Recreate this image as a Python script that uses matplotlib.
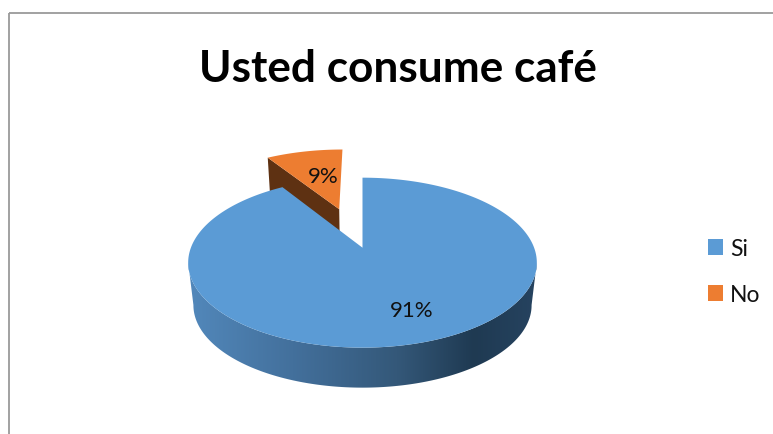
import numpy as np
import matplotlib
matplotlib.use("Agg")
import matplotlib.pyplot as plt
from matplotlib.colors import LinearSegmentedColormap
from matplotlib.patches import Patch, PathPatch, Polygon, Rectangle
from matplotlib.path import Path

title = "Usted consume café"
categories = ["Si", "No"]
values = [91, 9]
explode = [0.0, 0.53]

top_colors = ["#5B9BD5", "#ED7D31"]
cut_color = "#5E3112"
wall_stops = [(0.0, "#5288BB"), (0.3, "#43709C"), (0.6, "#345879"),
              (0.82, "#1F3A52"), (1.0, "#264360")]

# Perspective pie: plane coordinates (u, v) on a unit disc, v pointing away from the viewer.
CX, CY = 362.5, 248.7
A, B, K = 171.6, 82.35, 0.176
DEPTH, SHRINK = 43.0, 0.97

plt.rcParams["font.family"] = ["Lato", "DejaVu Sans"]


def project(u, v, lower=False):
    w = 1 + K * v
    dx, dy = A * u / w, -B * v / w
    if lower:
        dx, dy = dx * SHRINK, dy * SHRINK + DEPTH
    return np.column_stack([CX + dx, CY + dy])


def rim(theta, offset=(0.0, 0.0), lower=False):
    """Points on the rim for clockwise angles measured from twelve o'clock."""
    rad = np.radians(theta)
    return project(offset[0] + np.sin(rad), offset[1] + np.cos(rad), lower)


def apex(offset=(0.0, 0.0), lower=False):
    return project(np.array([offset[0]]), np.array([offset[1]]), lower)


fig = plt.figure(figsize=(7.73, 4.35), dpi=100)
ax = fig.add_axes([0, 0, 1, 1])
ax.set_xlim(0, 773)
ax.set_ylim(435, 0)
ax.axis("off")

# Chart frame, open towards the right and bottom edges
ax.add_patch(Rectangle((8.5, 13.5), 800, 460, fill=False, edgecolor="#9A9A9A", linewidth=1.3))

# Slice angles, clockwise from twelve o'clock
sweeps = np.array(values) / sum(values) * 360.0
si_start, si_end = 0.0, sweeps[0]
no_start, no_end = sweeps[0], sweeps[0] + sweeps[1]
no_mid = np.radians((no_start + no_end) / 2)
no_offset = (explode[1] * np.sin(no_mid), explode[1] * np.cos(no_mid))

# Pulled-out slice: its visible cut face, then its top
no_edge = rim(np.array([no_start]), no_offset)
no_edge_low = rim(np.array([no_start]), no_offset, lower=True)
ax.add_patch(Polygon(np.vstack([apex(no_offset), no_edge, no_edge_low, apex(no_offset, True)]),
                     closed=True, facecolor=cut_color, edgecolor="none"))
no_arc = rim(np.linspace(no_start, no_end, 40), no_offset)
ax.add_patch(Polygon(np.vstack([apex(no_offset), no_arc]), closed=True,
                     facecolor=top_colors[1], edgecolor="none"))

# Outer wall of the large slice, shaded left to right
front = np.linspace(100, 260, 200)
wall_outline = np.vstack([rim(front), rim(front[::-1], lower=True)])
wall_path = Path(np.vstack([wall_outline, wall_outline[:1]]), closed=True)
wall_cmap = LinearSegmentedColormap.from_list("wall", wall_stops)
wall_img = ax.imshow(np.linspace(0, 1, 256)[None, :], cmap=wall_cmap, aspect="auto",
                     extent=(wall_outline[:, 0].min(), wall_outline[:, 0].max(),
                             wall_outline[:, 1].max(), wall_outline[:, 1].min()))
wall_clip = PathPatch(wall_path, facecolor="none", edgecolor="none", transform=ax.transData)
ax.add_patch(wall_clip)
wall_img.set_clip_path(wall_clip)
ax.set_xlim(0, 773)
ax.set_ylim(435, 0)

# Top of the large slice
si_arc = rim(np.linspace(si_start, si_end, 400))
ax.add_patch(Polygon(np.vstack([apex(), si_arc]), closed=True,
                     facecolor=top_colors[0], edgecolor="none", zorder=3))

# Value labels
ax.text(412, 311, f"{values[0]}%", ha="center", va="center", fontsize=16, color="#111111", zorder=4)
ax.text(323, 177, f"{values[1]}%", ha="center", va="center", fontsize=16, color="#111111", zorder=4)

ax.text(398, 82, title, ha="center", va="baseline", fontsize=31.8, fontweight="bold", color="black")

handles = [Patch(facecolor=c, edgecolor="none") for c in top_colors]
ax.legend(handles, categories, loc="center left", bbox_to_anchor=(708 / 773, 1 - 272.5 / 435),
          frameon=False, fontsize=16.5, handlelength=0.66, handleheight=0.66,
          handletextpad=0.3, labelspacing=1.1, borderpad=0, borderaxespad=0,
          labelcolor="#111111")

fig.savefig("out.png", dpi=100)
